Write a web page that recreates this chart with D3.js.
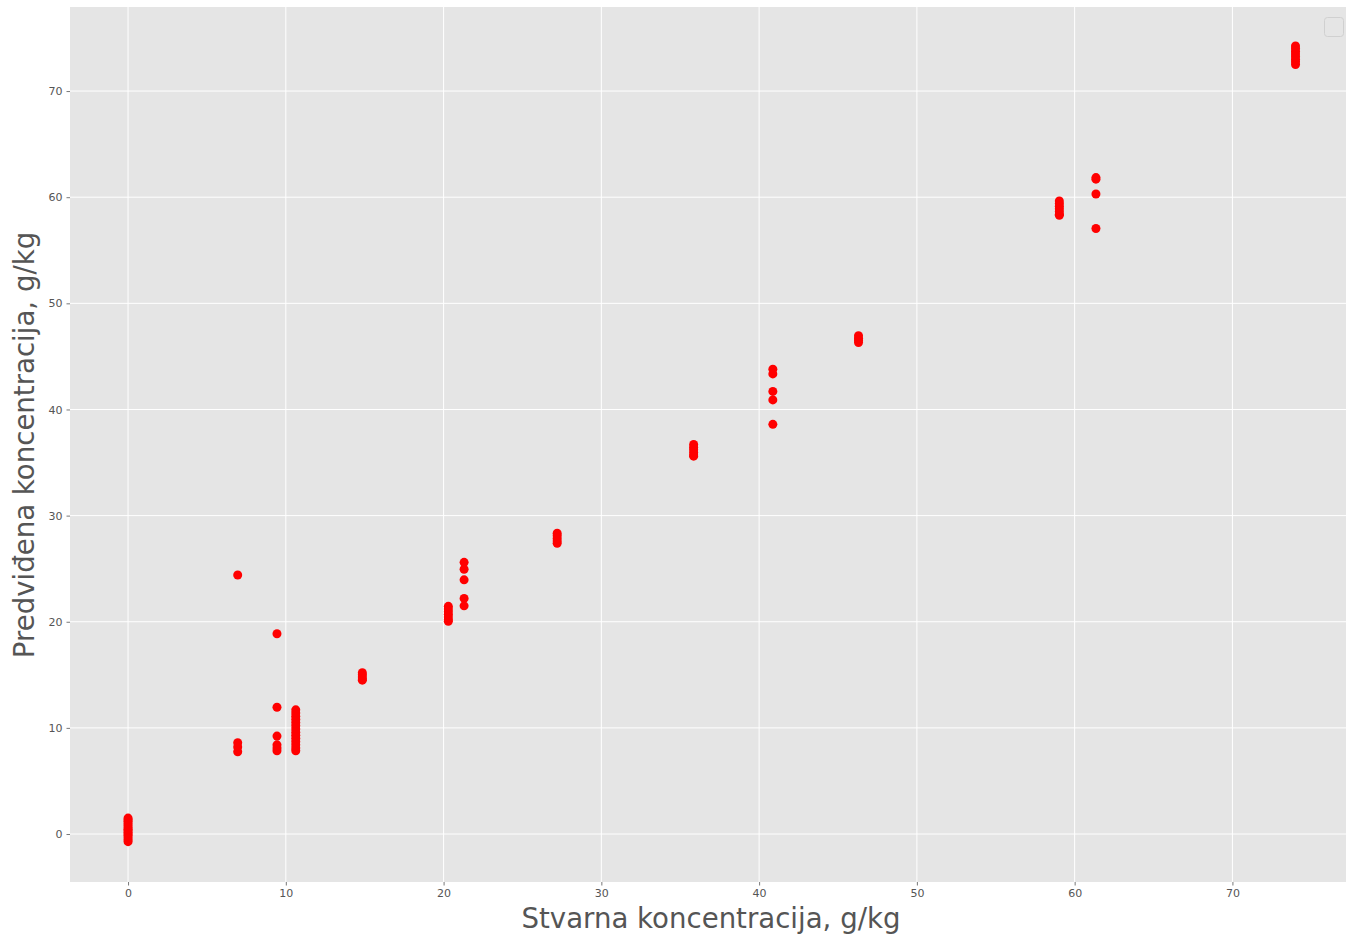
<!DOCTYPE html>
<html><head><meta charset="utf-8">
<script src="https://cdn.jsdelivr.net/npm/d3@7"></script>
<style>body{margin:0;background:#fff;} svg{display:block;}</style>
</head><body>
<svg id="chart" width="1346" height="936"></svg>
<script>
// Actual concentrations (x) and predicted concentrations (y), g/kg
const actual0 = 0.0;
const predicted0 = [-0.72,-0.55,-0.35,-0.15,0.0,0.15,0.3,0.45,0.6,0.8,1.0,1.2,1.35,1.5];
const actual7 = 6.95;
const predicted7 = [24.4,8.6,8.2,7.75];
const actual94 = 9.44;
const predicted94 = [18.87,11.94,9.23,8.4,8.1,7.85];
const actual106 = 10.63;
const predicted106 = [11.7,11.4,11.1,10.8,10.5,10.2,9.9,9.6,9.3,9.0,8.7,8.4,8.1,7.85];
const actual149 = 14.85;
const predicted149 = [15.2,15.0,14.8,14.6,14.5];
const actual203 = 20.3;
const predicted203 = [21.45,21.2,20.95,20.7,20.45,20.2,20.05];
const actual213 = 21.3;
const predicted213 = [25.6,24.95,23.95,22.2,21.5];
const actual272 = 27.2;
const predicted272 = [28.35,28.1,27.85,27.6,27.4];
const actual358 = 35.85;
const predicted358 = [36.7,36.45,36.2,35.95,35.7,35.6];
const actual409 = 40.87;
const predicted409 = [43.8,43.35,41.7,40.9,38.6];
const actual463 = 46.3;
const predicted463 = [46.95,46.7,46.5,46.3];
const actual590 = 59.03;
const predicted590 = [59.65,59.4,59.15,58.9,58.65,58.4,58.3];
const actual613 = 61.35;
const predicted613 = [61.85,61.7,60.3,57.05];
const actual740 = 74.0;
const predicted740 = [74.25,74.0,73.75,73.5,73.25,73.0,72.75,72.5];

const groups = [
  [actual0, predicted0],[actual7, predicted7],[actual94, predicted94],[actual106, predicted106],
  [actual149, predicted149],[actual203, predicted203],[actual213, predicted213],[actual272, predicted272],
  [actual358, predicted358],[actual409, predicted409],[actual463, predicted463],[actual590, predicted590],
  [actual613, predicted613],[actual740, predicted740]
];
const points = [];
groups.forEach(([x, ys]) => ys.forEach(y => points.push({x, y})));

const xTicks = [0,10,20,30,40,50,60,70];
const yTicks = [0,10,20,30,40,50,60,70];
const xLabel = "Stvarna koncentracija, g/kg";
const yLabel = "Predviđena koncentracija, g/kg";

const svg = d3.select("#chart");
const L = 70, R = 1346, T = 7, B = 882;
const x = d3.scaleLinear().domain([-3.68, 77.2]).range([L, R]);
const y = d3.scaleLinear().domain([-4.52, 77.92]).range([B, T]);

svg.append("rect").attr("x", L).attr("y", T).attr("width", R - L).attr("height", B - T).attr("fill", "#E5E5E5");

const gx = svg.append("g").attr("transform", `translate(0,${B})`)
  .call(d3.axisBottom(x).tickValues(xTicks).tickSize(3.5).tickPadding(4).tickFormat(d3.format("d")));
const gy = svg.append("g").attr("transform", `translate(${L},0)`)
  .call(d3.axisLeft(y).tickValues(yTicks).tickSize(3.5).tickPadding(4).tickFormat(d3.format("d")));
[gx, gy].forEach(g => {
  g.select(".domain").remove();
  g.selectAll("line").attr("stroke", "#555").attr("stroke-width", 0.8);
  g.selectAll("text").attr("fill", "#555").style("font-family", "DejaVu Sans").style("font-size", "11px");
});

// grid
svg.append("g").selectAll("line").data(xTicks).join("line")
  .attr("x1", d => x(d)).attr("x2", d => x(d)).attr("y1", T).attr("y2", B)
  .attr("stroke", "#fff").attr("stroke-width", 1);
svg.append("g").selectAll("line").data(yTicks).join("line")
  .attr("y1", d => y(d)).attr("y2", d => y(d)).attr("x1", L).attr("x2", R)
  .attr("stroke", "#fff").attr("stroke-width", 1);

// points
svg.append("g").selectAll("circle").data(points).join("circle")
  .attr("cx", d => x(d.x)).attr("cy", d => y(d.y)).attr("r", 4.5).attr("fill", "#FF0000");

// empty legend
svg.append("rect").attr("x", 1324.5).attr("y", 17.5).attr("width", 19).attr("height", 19).attr("rx", 3)
  .attr("fill", "#E5E5E5").attr("stroke", "#d0d0d0").attr("stroke-width", 1);

svg.append("text").attr("x", 711).attr("y", 928).attr("text-anchor", "middle")
  .attr("fill", "#555").style("font-family", "DejaVu Sans").style("font-size", "27.6px").text(xLabel);
svg.append("text").attr("transform", `translate(34,445) rotate(-90)`).attr("text-anchor", "middle")
  .attr("fill", "#555").style("font-family", "DejaVu Sans").style("font-size", "27.6px").text(yLabel);
</script>
</body></html>
